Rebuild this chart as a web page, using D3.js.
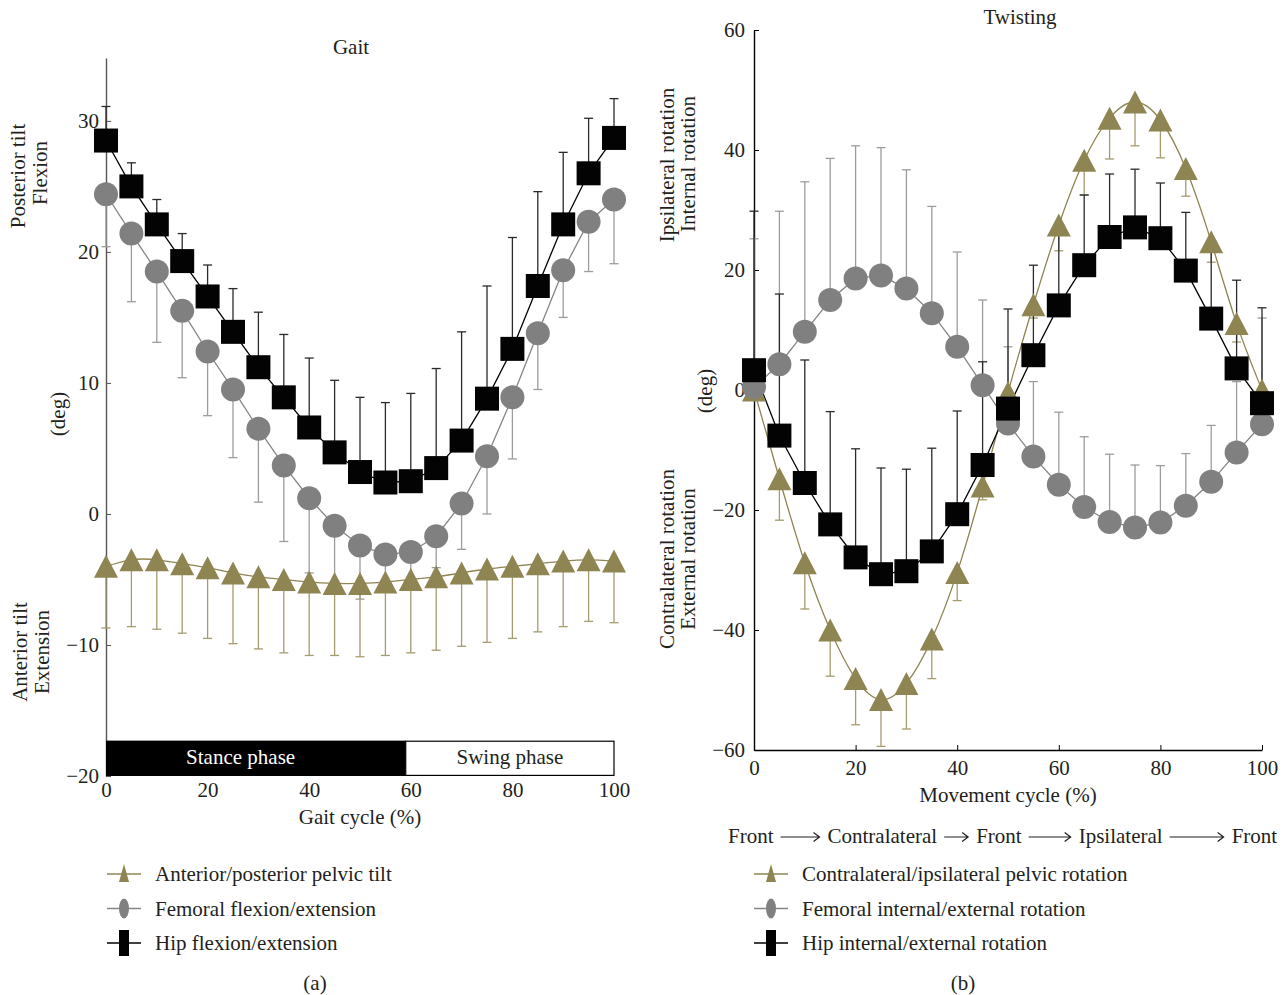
<!DOCTYPE html>
<html>
<head>
<meta charset="utf-8">
<script src="https://cdn.jsdelivr.net/npm/d3@7"></script>
<style>
  body { margin: 0; background: #fff; }
  text { font-family: "Liberation Serif", "Times New Roman", serif; font-size: 21px; fill: #231f20; }
</style>
</head>
<body>
<div id="chart"></div>
<script>
const cycle = [0, 5, 10, 15, 20, 25, 30, 35, 40, 45, 50, 55, 60, 65, 70, 75, 80, 85, 90, 95, 100];

// (a) gait: means and the one-sided error bar end
const gaitPelvis   = [-4.0, -3.5, -3.5, -3.8, -4.1, -4.5, -4.8, -5.0, -5.2, -5.3, -5.3, -5.2, -5.0, -4.8, -4.5, -4.2, -4.0, -3.8, -3.6, -3.5, -3.6];
const gaitPelvisLo = [-8.7, -8.6, -8.8, -9.1, -9.5, -9.9, -10.3, -10.6, -10.8, -10.8, -10.9, -10.8, -10.6, -10.4, -10.1, -9.8, -9.5, -9.0, -8.6, -8.2, -8.3];
const gaitFemur    = [24.4, 21.4, 18.5, 15.5, 12.4, 9.5, 6.5, 3.7, 1.2, -0.9, -2.4, -3.1, -2.9, -1.7, 0.8, 4.4, 8.9, 13.8, 18.6, 22.3, 24.0];
const gaitFemurLo  = [20.4, 16.2, 13.1, 10.4, 7.5, 4.3, 0.9, -2.1, -4.5, -5.5, -6.5, -5.5, -5.0, -4.1, -2.7, 0.0, 4.2, 9.5, 15.0, 18.5, 19.1];
const gaitHip      = [28.5, 25.0, 22.1, 19.3, 16.6, 13.9, 11.2, 8.9, 6.6, 4.7, 3.2, 2.4, 2.5, 3.5, 5.6, 8.8, 12.6, 17.4, 22.1, 26.0, 28.7];
const gaitHipHi    = [31.1, 26.8, 24.0, 21.4, 19.0, 17.2, 15.4, 13.7, 11.9, 10.2, 8.9, 8.5, 9.2, 11.1, 13.9, 17.4, 21.1, 24.6, 27.6, 30.2, 31.7];

// (b) twisting
const twistPelvis   = [0.0, -14.8, -28.8, -40.0, -48.1, -51.6, -48.9, -41.5, -30.4, -16.0, -0.4, 14.2, 27.5, 38.3, 45.3, 48.0, 45.0, 36.9, 24.7, 11.1, 0.0];
const twistPelvisLo = [null, -21.7, -36.5, -47.7, -55.8, -59.4, -56.5, -48.1, -35.1, -18.3, null, 12.0, 23.2, 32.5, 38.5, 40.7, 38.7, 32.3, 21.3, 8.0, null];
const twistFemur    = [0.5, 4.3, 9.7, 15.0, 18.6, 19.1, 16.9, 12.8, 7.2, 0.8, -5.6, -11.1, -15.8, -19.5, -22.0, -22.9, -22.1, -19.3, -15.3, -10.4, -5.7];
const twistFemurHi  = [25.2, 29.8, 34.7, 38.6, 40.7, 40.4, 36.7, 30.6, 23.0, 15.0, 7.2, 1.4, -3.7, -7.8, -10.7, -12.5, -12.6, -10.6, -5.9, 1.4, 12.0];
const twistHip      = [3.3, -7.6, -15.5, -22.4, -27.9, -30.7, -30.2, -26.9, -20.7, -12.5, -3.1, 5.8, 14.1, 20.8, 25.5, 27.1, 25.3, 19.9, 11.9, 3.6, -2.2];
const twistHipHi    = [29.8, 16.0, 5.0, -3.6, -9.8, -13.0, -13.2, -9.7, -3.5, 4.7, 13.5, 20.8, 27.5, 32.5, 36.0, 36.8, 34.5, 29.6, 24.5, 18.3, 13.7];

const xTicks = [0, 20, 40, 60, 80, 100];
const gaitTicks = [-20, -10, 0, 10, 20, 30];
const twistTicks = [-60, -40, -20, 0, 20, 40, 60];
const stanceEnd = 59;
const phaseNames = ["Stance phase", "Swing phase"];

const gaitLegend = ["Anterior/posterior pelvic tilt", "Femoral flexion/extension", "Hip flexion/extension"];
const twistLegend = ["Contralateral/ipsilateral pelvic rotation", "Femoral internal/external rotation", "Hip internal/external rotation"];
const directionWords = ["Front", "Contralateral", "Front", "Ipsilateral", "Front"];

const pelvisStyle = { fill: "#8e8552", line: "#8e8552", bar: "#a49b6e", shape: "triangle" };
const femurStyle  = { fill: "#808080", line: "#858585", bar: "#9c9c9c", shape: "circle" };
const hipStyle    = { fill: "#030303", line: "#000", bar: "#2a2a2a", shape: "square" };

const svg = d3.select("#chart").append("svg")
  .attr("width", 1288).attr("height", 995);

const minus = d => d < 0 ? "\u2212" + Math.abs(d) : d;

function drawMarkers(g, pts, style) {
  if (style.shape === "triangle") {
    g.selectAll(null).data(pts).enter().append("path")
      .attr("d", "M0,-11.5L12,11.5L-12,11.5Z")
      .attr("transform", d => `translate(${d[0]},${d[1]})`)
      .attr("fill", style.fill);
  } else if (style.shape === "circle") {
    g.selectAll(null).data(pts).enter().append("circle")
      .attr("cx", d => d[0]).attr("cy", d => d[1]).attr("r", 12)
      .attr("fill", style.fill);
  } else {
    g.selectAll(null).data(pts).enter().append("rect")
      .attr("x", d => d[0] - 12).attr("y", d => d[1] - 12)
      .attr("width", 24).attr("height", 24)
      .attr("fill", style.fill);
  }
}

function drawSeries(g, x, y, series) {
  // error bars first, then the lines, then the markers on top
  series.forEach(s => {
    const bars = g.append("g").attr("stroke", s.style.bar).attr("stroke-width", 1.3);
    cycle.forEach((c, i) => {
      if (s.bound[i] === null) return;
      const px = x(c);
      bars.append("line").attr("x1", px).attr("x2", px)
        .attr("y1", y(s.mean[i])).attr("y2", y(s.bound[i]));
      bars.append("line").attr("x1", px - 4.5).attr("x2", px + 4.5)
        .attr("y1", y(s.bound[i])).attr("y2", y(s.bound[i]));
    });
  });
  series.forEach(s => {
    const line = d3.line().x((d, i) => x(cycle[i])).y(d => y(d)).curve(s.curve);
    g.append("path").datum(s.mean).attr("d", line)
      .attr("fill", "none").attr("stroke", s.style.line).attr("stroke-width", 1.3);
  });
  series.forEach(s => {
    drawMarkers(g, s.mean.map((d, i) => [x(cycle[i]), y(d)]), s.style);
  });
}

function label(x, y, txt) {
  return svg.append("text").attr("x", x).attr("y", y)
    .attr("text-anchor", "middle").attr("dominant-baseline", "central").text(txt);
}

function rotatedText(x, y, txt) {
  svg.append("text").attr("transform", `translate(${x},${y}) rotate(-90)`)
    .attr("text-anchor", "middle").attr("dominant-baseline", "central").text(txt);
}

function legend(x0, y0, labels, styles) {
  labels.forEach((lab, i) => {
    const cy = y0 + i * 34.5;
    const st = styles[i];
    svg.append("line").attr("x1", x0).attr("x2", x0 + 34).attr("y1", cy).attr("y2", cy)
      .attr("stroke", st.line).attr("stroke-width", 1.3);
    const mx = x0 + 17;
    if (st.shape === "triangle") {
      svg.append("path").attr("d", `M${mx},${cy - 10}L${mx + 5},${cy + 8}L${mx - 5},${cy + 8}Z`).attr("fill", st.fill);
    } else if (st.shape === "circle") {
      svg.append("ellipse").attr("cx", mx).attr("cy", cy).attr("rx", 5).attr("ry", 10).attr("fill", st.fill);
    } else {
      svg.append("rect").attr("x", mx - 5).attr("y", cy - 13).attr("width", 10).attr("height", 26).attr("fill", st.fill);
    }
    svg.append("text").attr("x", x0 + 48).attr("y", cy).attr("dominant-baseline", "central").text(lab);
  });
}

function styleAxisText(a) {
  a.selectAll("text").attr("font-size", null).attr("font-family", null).attr("fill", "#231f20");
}

// ---------- (a) Gait ----------
const xa = d3.scaleLinear().domain([0, 100]).range([106, 614]);
const ya = d3.scaleLinear().domain([-20, 34.8]).range([776, 58]);
const ga = svg.append("g");

ga.append("g").attr("transform", "translate(106,0)")
  .call(d3.axisLeft(ya).tickValues(gaitTicks).tickSize(-5).tickSizeOuter(0).tickPadding(7).tickFormat(minus))
  .call(a => a.select(".domain").attr("stroke", "#555").attr("stroke-width", 1.4))
  .call(a => a.selectAll(".tick line").attr("stroke", "#555"))
  .call(styleAxisText);

drawSeries(ga, xa, ya, [
  { mean: gaitFemur, bound: gaitFemurLo, style: femurStyle, curve: d3.curveLinear },
  { mean: gaitHip, bound: gaitHipHi, style: hipStyle, curve: d3.curveLinear },
  { mean: gaitPelvis, bound: gaitPelvisLo, style: pelvisStyle, curve: d3.curveNatural }
]);

// phase bar
ga.append("rect").attr("x", xa(0)).attr("y", ya(-17.3)).attr("width", xa(stanceEnd) - xa(0)).attr("height", ya(-20) - ya(-17.3)).attr("fill", "#000");
ga.append("rect").attr("x", xa(stanceEnd)).attr("y", ya(-17.3) + 0.6).attr("width", xa(100) - xa(stanceEnd)).attr("height", ya(-20) - ya(-17.3) - 1.2)
  .attr("fill", "#fff").attr("stroke", "#000").attr("stroke-width", 1.2);
label(xa(26.5), (ya(-17.3) + ya(-20)) / 2 - 1, phaseNames[0]).style("fill", "#fff");
label(xa(79.5), (ya(-17.3) + ya(-20)) / 2 - 1, phaseNames[1]);

ga.append("g").attr("transform", "translate(0,776)")
  .call(d3.axisBottom(xa).tickValues(xTicks).tickSize(0).tickPadding(6))
  .call(a => a.select(".domain").remove())
  .call(styleAxisText);

label(351, 47, "Gait");
label(360, 817, "Gait cycle (%)");
rotatedText(58, 414, "(deg)");
rotatedText(18, 176, "Posterior tilt");
rotatedText(40, 173, "Flexion");
rotatedText(20, 652, "Anterior tilt");
rotatedText(42, 652, "Extension");

// ---------- (b) Twisting ----------
const xb = d3.scaleLinear().domain([0, 100]).range([754, 1262]);
const yb = d3.scaleLinear().domain([-60, 60]).range([750, 30]);
const gb = svg.append("g");

gb.append("g").attr("transform", "translate(754,0)")
  .call(d3.axisLeft(yb).tickValues(twistTicks).tickSize(-5).tickSizeOuter(0).tickPadding(9).tickFormat(minus))
  .call(a => a.select(".domain").attr("stroke-width", 1.4))
  .call(styleAxisText);
gb.append("g").attr("transform", "translate(0,750)")
  .call(d3.axisBottom(xb).tickValues(xTicks).tickSize(-5).tickSizeOuter(0).tickPadding(10))
  .call(a => a.select(".domain").attr("stroke-width", 1.4))
  .call(styleAxisText);

drawSeries(gb, xb, yb, [
  { mean: twistPelvis, bound: twistPelvisLo, style: pelvisStyle, curve: d3.curveNatural },
  { mean: twistFemur, bound: twistFemurHi, style: femurStyle, curve: d3.curveLinear },
  { mean: twistHip, bound: twistHipHi, style: hipStyle, curve: d3.curveLinear }
]);

label(1020, 17, "Twisting");
label(1008, 795, "Movement cycle (%)");
rotatedText(705, 391, "(deg)");
rotatedText(667, 165, "Ipsilateral rotation");
rotatedText(688, 164, "Internal rotation");
rotatedText(667, 559, "Contralateral rotation");
rotatedText(688, 559, "External rotation");

// direction row with arrows between the words
const arrowLen = [39, 24, 42, 54];
let cx = 728;
const rowY = 836;
directionWords.forEach((w, i) => {
  const t = svg.append("text").attr("x", cx).attr("y", rowY).attr("dominant-baseline", "central").text(w);
  cx += t.node().getComputedTextLength();
  if (i < arrowLen.length) {
    const x1 = cx + 7, x2 = cx + 7 + arrowLen[i];
    svg.append("path")
      .attr("d", `M${x1},${rowY + 1}H${x2}M${x2 - 6},${rowY - 3.5}L${x2},${rowY + 1}L${x2 - 6},${rowY + 5.5}`)
      .attr("fill", "none").attr("stroke", "#231f20").attr("stroke-width", 1.2);
    cx = x2 + 8;
  }
});

legend(107, 874, gaitLegend, [pelvisStyle, femurStyle, hipStyle]);
legend(754, 874, twistLegend, [pelvisStyle, femurStyle, hipStyle]);

label(315, 983, "(a)");
label(963, 983, "(b)");
</script>
</body>
</html>
